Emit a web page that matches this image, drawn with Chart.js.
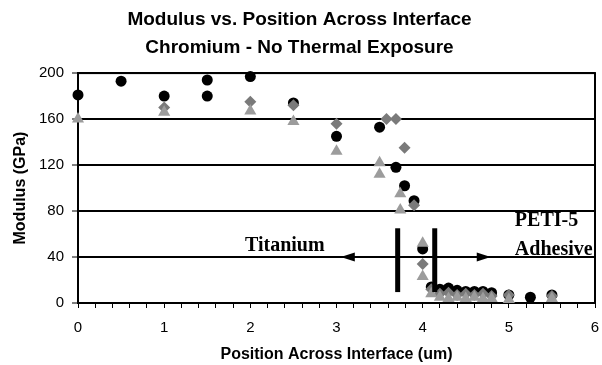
<!DOCTYPE html>
<html><head><meta charset="utf-8">
<script src="https://cdn.jsdelivr.net/npm/chart.js@4.4.0/dist/chart.umd.min.js"></script>
<style>html,body{margin:0;padding:0;background:#fff;} canvas{display:block;}</style>
</head><body>
<canvas id="c" width="602" height="365"></canvas>
<script>
// Black circles
const circleX = [0, 0.5, 1, 1.5, 1.5, 2, 2.5, 3, 3.5, 3.69, 3.79, 3.9, 4.0, 4.1, 4.2, 4.3, 4.4, 4.5, 4.6, 4.7, 4.8, 5.0, 5.25, 5.5];
const circleY = [181, 193, 180, 194, 180, 197, 174, 145, 153, 118, 102, 89, 47, 14, 12, 13, 11, 10, 10, 10, 9, 7, 5, 7];
// Dark grey diamonds
const diamondX = [1, 2, 2.5, 3, 3.58, 3.69, 3.79, 3.9, 4.0, 4.1, 4.2, 4.3, 4.4, 4.5, 4.6, 4.7, 4.8, 5.0, 5.5];
const diamondY = [170, 175, 172, 156, 160, 160, 135, 85, 34, 12, 8, 9, 7, 8, 7, 8, 6, 7, 6];
// Light grey triangles
const triangleX = [0, 1, 2, 2.5, 3, 3.5, 3.5, 3.74, 3.74, 4.0, 4.0, 4.1, 4.2, 4.3, 4.4, 4.5, 4.6, 4.7, 4.8, 5.0, 5.5];
const triangleY = [160, 166, 167, 158, 132, 122, 112, 95, 81, 52, 23, 8, 5, 4, 5, 4, 5, 4, 4, 3, 4];

const xTickLabels = ['0', '1', '2', '3', '4', '5', '6'];
const yTickLabels = ['0', '40', '80', '120', '160', '200'];

const boundaryX = [3.71, 4.14];
const boundaryY = [9.5, 65];
const arrowTips = [3.05, 4.79];
const arrowY = 40;
const regionLabels = [
  {text: 'Titanium', x: 2.4, y: 45, align: 'center'},
  {text: 'PETI-5', x: 5.07, y: 67, align: 'left'},
  {text: 'Adhesive', x: 5.07, y: 42, align: 'left'}
];

const toPts = (xs, ys) => xs.map((v, i) => ({x: v, y: ys[i]}));

const overlay = {
  id: 'overlay',
  beforeDatasetsDraw(chart) {
    const {ctx, chartArea: a} = chart;
    ctx.save();
    ctx.strokeStyle = '#000';
    ctx.lineWidth = 2;
    ctx.strokeRect(a.left, a.top, a.right - a.left, a.bottom - a.top);
    ctx.restore();
  },
  afterDatasetsDraw(chart) {
    const {ctx, scales: {x, y}} = chart;
    ctx.save();
    ctx.fillStyle = '#000';
    boundaryX.forEach(v => {
      const px = x.getPixelForValue(v);
      const t = y.getPixelForValue(boundaryY[1]);
      const b = y.getPixelForValue(boundaryY[0]);
      ctx.fillRect(px - 2.5, t, 5, b - t);
    });
    const ay = y.getPixelForValue(arrowY);
    [-1, 1].forEach((dir, i) => {
      const tx = x.getPixelForValue(arrowTips[i]);
      ctx.beginPath();
      ctx.moveTo(tx, ay);
      ctx.lineTo(tx - dir * 14, ay - 4.5);
      ctx.lineTo(tx - dir * 14, ay + 4.5);
      ctx.closePath();
      ctx.fill();
    });
    ctx.font = 'bold 20px "Liberation Serif", "Times New Roman", serif';
    ctx.textBaseline = 'alphabetic';
    regionLabels.forEach(l => {
      ctx.textAlign = l.align;
      ctx.fillText(l.text, x.getPixelForValue(l.x), y.getPixelForValue(l.y));
    });
    ctx.restore();
  }
};

Chart.defaults.color = '#000';
Chart.defaults.font.family = '"Liberation Sans", Arial, sans-serif';

new Chart(document.getElementById('c'), {
  type: 'scatter',
  data: {
    datasets: [
      {label: 'Triangles', data: toPts(triangleX, triangleY), pointStyle: 'triangle', pointRadius: 7, backgroundColor: '#9c9c9c', borderWidth: 0, clip: false},
      {label: 'Diamonds', data: toPts(diamondX, diamondY), pointStyle: 'rectRot', pointRadius: 6, backgroundColor: '#7a7a7a', borderWidth: 0, clip: false},
      {label: 'Circles', data: toPts(circleX, circleY), pointStyle: 'circle', pointRadius: 5.5, backgroundColor: '#000', borderWidth: 0, clip: false}
    ]
  },
  options: {
    responsive: false,
    animation: false,
    layout: {padding: {left: 0, right: 3, top: 0, bottom: 0}},
    plugins: {
      legend: {display: false},
      tooltip: {enabled: false},
      title: {
        display: true,
        text: ['Modulus vs. Position Across Interface', 'Chromium - No Thermal Exposure'],
        font: {size: 19, weight: 'bold', lineHeight: 1.45},
        padding: {top: 6, bottom: 12},
        color: '#000'
      }
    },
    scales: {
      x: {
        type: 'linear', min: 0, max: 6,
        afterFit: s => { s.height = 62; s.paddingRight = 0; s.paddingLeft = 0; },
        ticks: {
          stepSize: 0.2, autoSkip: false, maxRotation: 0, padding: 11,
          font: {size: 15},
          callback: v => { const r = Math.round(v); return Math.abs(v - r) < 1e-6 ? xTickLabels[r] : ''; }
        },
        grid: {drawOnChartArea: false, drawTicks: true, tickLength: 5, color: '#000', lineWidth: 1},
        border: {display: true, color: '#000', width: 2},
        title: {display: true, text: 'Position Across Interface (um)', font: {size: 16, weight: 'bold'}, padding: {top: 0, bottom: 1}}
      },
      y: {
        type: 'linear', min: 0, max: 200,
        afterFit: s => { s.width = 78; },
        ticks: {
          stepSize: 40, padding: 8, font: {size: 15},
          callback: v => yTickLabels[Math.round(v / 40)]
        },
        grid: {color: '#000', lineWidth: 2, drawTicks: true, tickLength: 6, tickWidth: 1, tickColor: '#000'},
        border: {display: true, color: '#000', width: 2},
        title: {display: true, text: 'Modulus (GPa)', font: {size: 16, weight: 'bold'}, padding: {top: 11, bottom: 0}}
      }
    }
  },
  plugins: [overlay]
});
</script>
</body></html>
